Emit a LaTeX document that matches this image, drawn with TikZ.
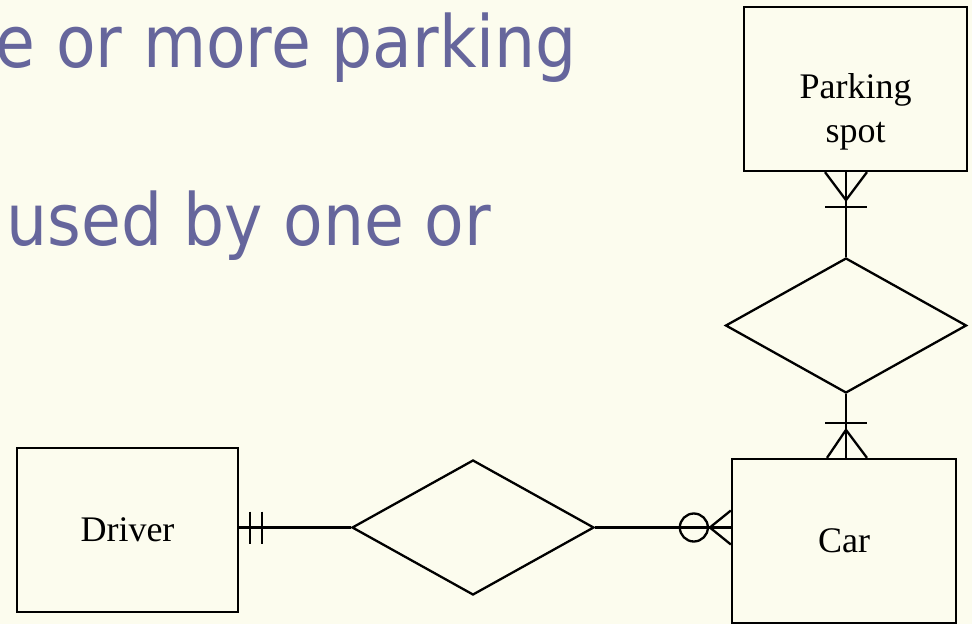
\documentclass[tikz,border=0pt]{standalone}
\usepackage{fontspec}
\setmainfont{Liberation Serif}
\newfontfamily\titlefont{DejaVu Sans}
\usetikzlibrary{shapes.geometric,calc}
\definecolor{bg}{RGB}{252,252,238}
\definecolor{titleblue}{RGB}{102,102,156}
\begin{document}
\begin{tikzpicture}[x=1pt,y=-1pt,line width=2.3pt,
  entity/.style={draw,rectangle,inner sep=0pt,font=\fontsize{36}{44}\selectfont},
  lbl/.style={inner sep=0pt,align=center,font=\fontsize{36}{44}\selectfont},
  rel/.style={draw,diamond,inner sep=0pt},
  ttl/.style={text=titleblue,font=\titlefont\fontsize{72}{80}\selectfont,inner sep=0pt,anchor=base east}]
\fill[bg] (0,0) rectangle (972,624);
\useasboundingbox (0,0) rectangle (972,624);
\clip (0,0) rectangle (972,624);
% slide text
\node[ttl] (t1) at (578,67) {\scalebox{0.9}[1]{e or more parking}};
\node[ttl] (t2) at (492,245) {\scalebox{0.9}[1]{used by one or}};
% entities
\node[entity,minimum width=223pt,minimum height=164pt] (ps) at (855.5,89) {};
\node[lbl] (pstext) at (855.5,111.6) {Parking\\spot};
\node[entity,minimum width=224pt,minimum height=164pt] (car) at (844,541) {Car};
\node[entity,minimum width=221pt,minimum height=164pt] (drv) at (127.5,530) {Driver};
% relationships
\node[rel,minimum width=241pt,minimum height=135pt] (r1) at (846,325.5) {};
\node[rel,minimum width=242pt,minimum height=135pt] (r2) at (473,527.5) {};
% connector endpoints
\coordinate (a) at (r1.north |- ps.south);
\coordinate (b) at (r1.south |- car.north);
\coordinate (c) at (r2.west -| drv.east);
\coordinate (d) at (r2.east -| car.west);
% connectors
\draw (a) -- (r1.north);
\draw (r1.south) -- (b);
\draw (c) -- (r2.west);
\draw (r2.east) -- (d);
% parking spot end: one or many
\draw ($(a)+(-21,0)$) -- ($(a)+(0,28)$) -- ($(a)+(21,0)$);
\draw ($(a)+(-21,35)$) -- ($(a)+(21,35)$);
% car top end: one or many
\draw ($(b)+(-19,0)$) -- ($(b)+(0,-28)$) -- ($(b)+(21,0)$);
\draw ($(b)+(-21,-35)$) -- ($(b)+(21,-35)$);
% driver end: exactly one
\draw ($(c)+(11,-16)$) -- ($(c)+(11,16)$);
\draw ($(c)+(23,-16)$) -- ($(c)+(23,16)$);
% car side end: zero or many
\draw ($(d)+(-37,0)$) circle (14pt);
\draw ($(d)+(0,-17)$) -- ($(d)+(-21,0)$) -- ($(d)+(0,17)$);
\end{tikzpicture}
\end{document}
